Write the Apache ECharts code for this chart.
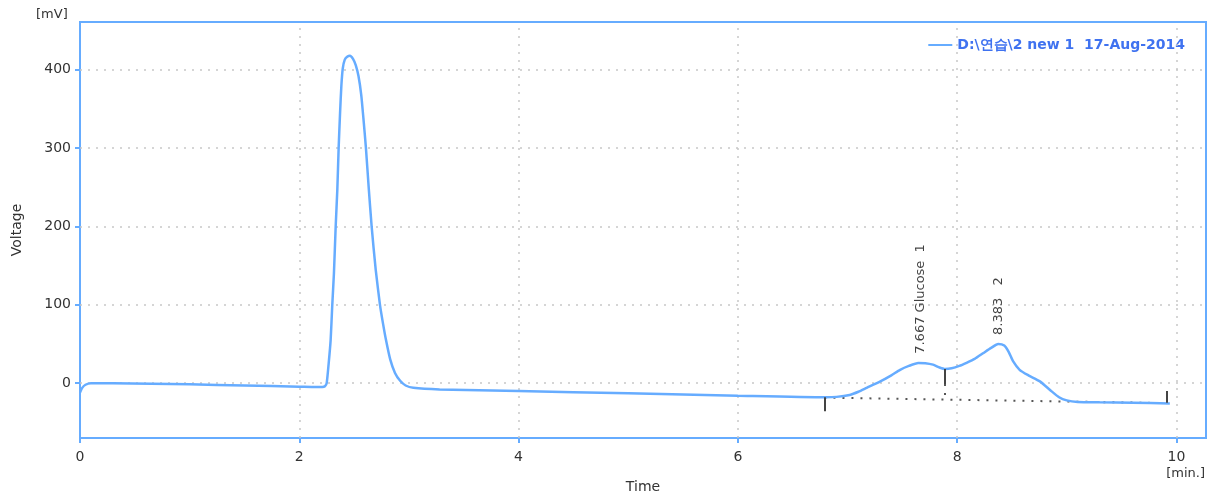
<!DOCTYPE html>
<html>
<head>
<meta charset="utf-8">
<script src="https://cdn.jsdelivr.net/npm/echarts@6/dist/echarts.min.js"></script>
<style>
  html, body { margin: 0; padding: 0; background: #fff; }
  #chart { width: 1211px; height: 501px; }
</style>
</head>
<body>
<div id="chart"></div>
<script>
// Chromatogram trace: retention time (min) and detector signal (mV)
const timeMin = [
  0.00, 0.02, 0.05, 0.10, 0.30, 1.00, 1.50, 2.00, 2.15, 2.21, 2.234,
  2.25, 2.268, 2.286, 2.301, 2.316, 2.332, 2.347, 2.359, 2.372, 2.384,
  2.397, 2.415, 2.44, 2.462, 2.49, 2.515, 2.54, 2.565, 2.585, 2.608, 2.633,
  2.66, 2.697, 2.736, 2.765, 2.791, 2.83, 2.873, 2.92, 2.97, 3.04, 3.28,
  4.00, 5.00, 6.00, 6.80, 6.90, 7.02, 7.10, 7.175, 7.30, 7.40, 7.48,
  7.56, 7.646, 7.71, 7.78, 7.84, 7.89, 7.95, 8.02, 8.086, 8.16, 8.24,
  8.31, 8.375, 8.43, 8.47, 8.51, 8.57, 8.65, 8.755, 8.85, 8.93, 9.00,
  9.10, 9.30, 9.60, 9.94
];
const voltage = [
  -12, -6, -2, 0, 0, -1.5, -3, -4.5, -5, -5, -4,
  0, 25, 55, 100, 140, 200, 247, 300, 345, 380,
  402, 413, 417, 418, 414, 406, 392, 368, 338, 300, 250,
  200, 145, 100, 75, 55, 30, 13, 3, -3, -6, -8,
  -10, -13, -16, -18, -17.5, -15, -11, -6, 2.3, 10, 17,
  22, 25.7, 25.5, 23.6, 20, 18, 19, 22, 26, 31, 38.5,
  45, 50, 48, 40, 28, 17, 10, 2.3, -9, -18, -22,
  -24, -24.5, -25, -26
];

// Integration baseline and peak delimiters
const baselineStart = [6.79, -18.5];
const baselineEnd = [9.91, -25.5];
const markerTimes = [6.79, 7.89, 9.91];
const markerTops = [-18, 18, -10];
const markerBottoms = [-36, -1, -25];
const dropTime = 7.89;
const dropFrom = -1;
const dropTo = -21;

// Peak annotations
const peakTimes = [7.667, 8.383];
const peakValues = [26, 50];
const peakLabels = ['7.667 Glucose  1', '8.383   2'];

// Axis ticks
const xTicks = [0, 2, 4, 6, 8, 10];
const yTicks = [0, 100, 200, 300, 400];
const xRange = [0, 10.27];
const yRange = [-70, 461];

const traceName = 'D:\\연습\\2 new 1  17-Aug-2014';

const blue = '#66acff';
const axisFont = 'DejaVu Sans';

const trace = timeMin.map((t, i) => [t, voltage[i]]);
const markerSegments = markerTimes.map((t, i) => ({
  coords: [[t, markerTops[i]], [t, markerBottoms[i]]]
}));

const gridLineStyle = { color: '#c8c8c8', type: [2, 6], width: 1.5 };

const chart = echarts.init(document.getElementById('chart'), null, { renderer: 'canvas' });
chart.setOption({
  animation: false,
  backgroundColor: '#fff',
  grid: {
    left: 80, right: 5, top: 22, bottom: 63,
    show: true, borderColor: blue, borderWidth: 2, backgroundColor: 'transparent'
  },
  legend: {
    right: 21, top: 33,
    itemWidth: 24, itemHeight: 12, itemGap: 6,
    data: [{ name: traceName, icon: 'path://M0,5 L24,5 L24,7 L0,7 Z' }],
    textStyle: { color: '#3f72f0', fontFamily: axisFont, fontSize: 14, fontWeight: 'bold' }
  },
  xAxis: {
    type: 'value', min: xRange[0], max: xRange[1],
    name: 'Time', nameLocation: 'middle', nameGap: 42,
    nameTextStyle: { fontFamily: axisFont, fontSize: 14, color: '#333' },
    axisLine: { show: true, onZero: false, lineStyle: { color: blue, width: 2 } },
    axisTick: { show: true, length: 5, lineStyle: { color: blue, width: 2 }, customValues: xTicks },
    axisLabel: { customValues: xTicks, fontFamily: axisFont, fontSize: 14, color: '#333', margin: 12 },
    splitLine: { show: false }
  },
  yAxis: {
    type: 'value', min: yRange[0], max: yRange[1],
    name: 'Voltage', nameLocation: 'middle', nameGap: 56,
    nameTextStyle: { fontFamily: axisFont, fontSize: 14, color: '#333' },
    axisLine: { show: true, onZero: false, lineStyle: { color: blue, width: 2 } },
    axisTick: { show: true, length: 5, lineStyle: { color: blue, width: 2 }, customValues: yTicks },
    axisLabel: { customValues: yTicks, fontFamily: axisFont, fontSize: 14, color: '#333', margin: 9 },
    splitLine: { show: false }
  },
  graphic: [
    { type: 'text', left: 36, top: 8,
      style: { text: '[mV]', font: '13px "DejaVu Sans"', fill: '#333' } },
    { type: 'text', right: 6, top: 467,
      style: { text: '[min.]', font: '13px "DejaVu Sans"', fill: '#333' } }
  ],
  series: [
    {
      // dotted grid lines at the tick values
      type: 'line', data: [], silent: true,
      markLine: {
        silent: true, symbol: 'none', label: { show: false },
        lineStyle: gridLineStyle,
        data: [
          ...xTicks.filter(v => v > 0).map(v => ({ xAxis: v })),
          ...yTicks.map(v => ({ yAxis: v }))
        ]
      }
    },
    {
      name: traceName, type: 'line', data: trace,
      symbol: 'none', smooth: 0.2,
      lineStyle: { color: blue, width: 2.5 }, itemStyle: { color: blue },
      z: 5
    },
    {
      // integration baseline
      type: 'lines', coordinateSystem: 'cartesian2d', silent: true, z: 4,
      lineStyle: { color: '#555', width: 2, type: [2, 7], opacity: 1 },
      data: [
        { coords: [baselineStart, baselineEnd] },
        { coords: [[dropTime, dropFrom], [dropTime, dropTo]] }
      ]
    },
    {
      // peak start / end delimiters
      type: 'lines', coordinateSystem: 'cartesian2d', silent: true, z: 6,
      lineStyle: { color: '#444', width: 2, opacity: 1 },
      data: markerSegments
    },
    {
      // rotated peak labels
      type: 'scatter', symbolSize: 0, silent: true, z: 7,
      data: peakTimes.map((t, i) => ({ value: [t, peakValues[i]], label: { formatter: peakLabels[i] } })),
      label: {
        show: true, position: 'top', distance: 9, rotate: 90,
        align: 'left', verticalAlign: 'middle',
        fontFamily: axisFont, fontSize: 13, color: '#111'
      }
    }
  ]
});
</script>
</body>
</html>
